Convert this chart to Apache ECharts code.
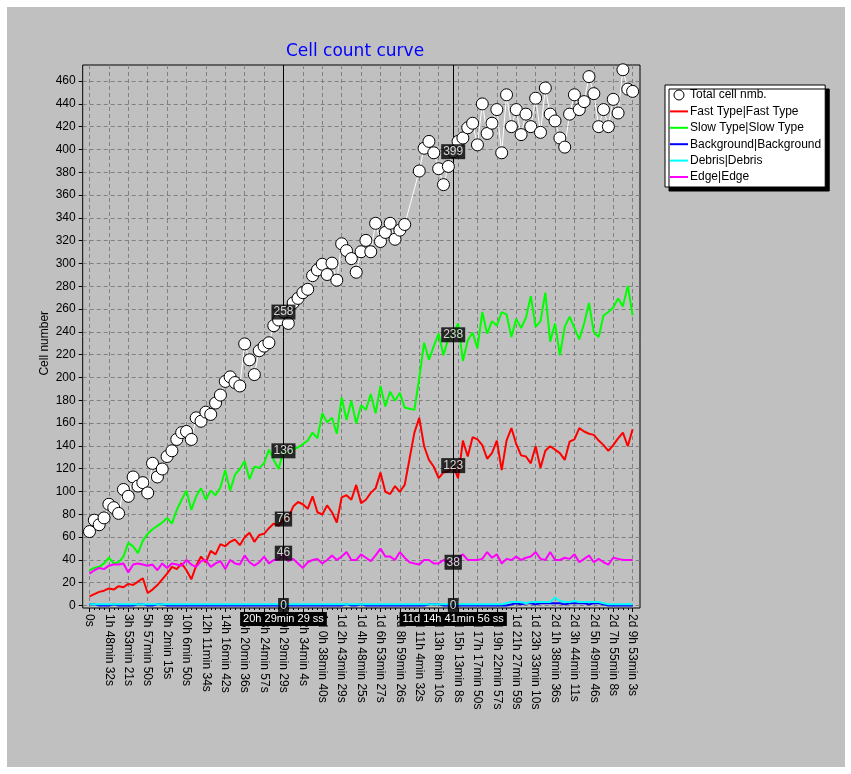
<!DOCTYPE html>
<html><head><meta charset="utf-8">
<script src="https://cdn.jsdelivr.net/npm/echarts@6/dist/echarts.min.js"></script>
<style>
html,body{margin:0;padding:0;background:#fff;width:851px;height:774px;overflow:hidden}
#c{position:absolute;left:7px;top:7px;width:838px;height:760px}
</style></head><body><div id="c"></div>
<script>
// ---- data ----
const tickLabels = ['0s','1h 48min 32s','3h 53min 21s','5h 57min 50s','8h 2min 15s','10h 6min 50s','12h 11min 34s','14h 16min 42s','16h 20min 36s','18h 24min 57s','20h 29min 29s','22h 34min 4s','1d 0h 38min 40s','1d 2h 43min 29s','1d 4h 48min 25s','1d 6h 53min 27s','1d 8h 59min 26s','1d 11h 4min 32s','1d 13h 8min 10s','1d 15h 13min 8s','1d 17h 17min 50s','1d 19h 22min 57s','1d 21h 27min 59s','1d 23h 33min 10s','2d 1h 38min 36s','2d 3h 44min 11s','2d 5h 49min 46s','2d 7h 55min 8s','2d 9h 53min 3s'];
const pointsPerTick = 4;

const totalCells = [65,75,71,77,89,86,81,102,96,113,
105,108,99,125,113,120,131,136,146,152,
153,146,165,162,170,168,178,185,197,201,
196,193,230,216,203,224,228,231,246,251,
258,248,266,270,275,278,290,295,300,291,
301,286,318,312,305,293,311,321,311,336,
320,328,336,322,330,335,null,null,382,402,
408,398,384,370,386,399,408,411,420,424,
405,441,415,424,436,398,449,421,436,414,
432,421,446,416,455,432,426,411,403,432,
449,436,443,465,450,421,436,421,445,433,
471,454,452];

const fastType = [8,10,12,13,15,14,17,16,19,18,
21,24,11,14,18,23,28,34,32,37,
31,23,35,43,38,48,45,54,52,56,
58,53,60,64,56,62,63,68,72,70,
76,77,87,91,89,85,96,82,80,88,
82,73,95,97,93,106,90,93,99,103,
117,100,98,105,100,106,129,152,165,140,
128,122,112,117,118,123,112,145,131,148,
146,141,129,134,145,119,145,156,142,132,
131,125,140,121,136,140,137,134,128,144,
146,156,153,151,150,145,141,136,141,147,
152,140,155];

const slowType = [31,33,34,37,42,37,38,43,55,52,
46,57,63,67,70,73,77,72,84,93,
101,84,96,103,93,101,97,104,119,101,
115,120,127,111,122,121,125,137,128,120,
136,134,137,139,142,145,152,147,169,161,
165,151,183,163,180,160,176,172,186,169,
193,175,188,180,187,174,173,172,200,231,
216,228,239,220,235,238,248,215,233,240,
226,258,239,250,246,258,256,236,252,244,
253,272,245,250,275,232,248,220,245,254,
244,234,248,266,240,236,255,258,262,270,
263,281,255];

const background = [1,1,0,0,0,1,0,0,0,0,
1,1,0,0,1,1,0,0,0,0,
0,0,0,0,0,0,0,0,0,0,
0,0,0,0,0,0,0,0,0,0,
0,0,0,0,0,0,0,0,0,0,
0,0,0,1,0,0,1,0,0,0,
0,0,0,0,0,0,0,0,0,0,
1,1,1,0,0,0,0,0,0,0,
0,0,0,0,0,0,0,1,2,1,
2,2,1,2,2,2,2,2,1,2,
2,2,2,1,2,2,1,0,0,0,
0,0,0];

const debris = [1,1,1,1,1,1,1,1,1,1,
1,1,1,1,1,1,1,1,1,1,
1,1,1,1,1,1,1,1,1,1,
1,1,1,1,1,1,1,1,1,1,
1,1,1,1,1,1,1,1,1,1,
1,1,1,1,1,1,1,1,1,1,
1,1,1,1,1,1,1,1,1,1,
1,1,1,1,1,1,1,1,1,1,
1,1,1,1,1,1,2,3,3,3,
2,3,3,3,3,3,7,4,3,3,
4,3,3,3,3,3,2,1,1,1,
1,1,1];

const edge = [28,31,33,32,35,36,36,37,29,36,
37,36,35,36,31,37,33,37,36,35,
40,36,34,39,40,34,37,39,32,40,
37,36,44,38,35,38,43,37,40,40,
46,39,41,37,33,38,40,41,37,40,
44,40,43,47,40,40,45,42,39,44,
50,43,43,40,47,42,38,37,36,40,
40,37,37,40,38,38,42,45,40,40,
40,41,47,42,45,37,41,40,43,40,
42,43,47,41,40,47,40,40,42,41,
45,38,41,44,38,41,38,36,42,41,
40,40,40];

const seriesNames = ['Total cell nmb.','Fast Type|Fast Type','Slow Type|Slow Type','Background|Background','Debris|Debris','Edge|Edge'];
const seriesColors = ['#ffffff','#ff0000','#00ff00','#0000ff','#00ffff','#ff00ff'];

const cursorTimes = [10, 18.75];
const cursorTimeLabels = ['20h 29min 29 ss', '11d 14h 41min 56 ss'];
const cursorValues = [[258,136,76,46,0],[399,238,123,38,0]];

const yTicks = {min: 0, max: 460, step: 20};

// ---- build ----
const FONT = 'Liberation Sans, Arial, sans-serif';
const toXY = arr => arr.map((v, i) => [i / pointsPerTick, v]);

const frame = {left: 75.7, top: 58, width: 557.3, height: 543};
const yGrid = {left: 75.7, top: 74, width: 557.3, height: 524.5};
const xGrid = {left: 82.5, top: 58, width: 543.2, height: 543};

const dash = {color: '#808080', width: 1, type: [4, 3]};
const LINE_ICON = 'path://M0,0L18,0L18,2L0,2Z';

const chart = echarts.init(document.getElementById('c'), null, {renderer: 'canvas'});

function lineSeries(idx, arr) {
  return {
    name: seriesNames[idx], type: 'line', xAxisIndex: 0, yAxisIndex: 0,
    data: toXY(arr), symbol: 'none', animation: false,
    lineStyle: {color: seriesColors[idx], width: 2},
    itemStyle: {color: seriesColors[idx]},
    z: 3 + idx
  };
}

const cursorPts = [];
cursorTimes.forEach((t, ci) => cursorValues[ci].forEach(v => cursorPts.push([t, v])));

const option = {
  backgroundColor: '#c0c0c0',
  animation: false,
  textStyle: {fontFamily: FONT},
  title: {
    text: 'Cell count curve', left: 343, top: 31, textAlign: 'center',
    textStyle: {color: '#0000ff', fontSize: 17, fontWeight: 'normal', fontFamily: 'DejaVu Sans, sans-serif'}
  },
  legend: {
    orient: 'vertical', left: 658, top: 78,
    backgroundColor: '#ffffff', borderColor: '#000', borderWidth: 1,
    shadowColor: '#000', shadowBlur: 0, shadowOffsetX: 4, shadowOffsetY: 4,
    padding: [3, 4, 3, 5], itemGap: 2.4, itemWidth: 18, itemHeight: 10,
    textStyle: {fontSize: 12, color: '#000', fontFamily: FONT, lineHeight: 14, padding: [0, 0, 0, -3]},
    data: [
      {name: seriesNames[0], icon: 'circle', itemStyle: {color: '#fff', borderColor: '#000', borderWidth: 1}},
      {name: seriesNames[1], icon: LINE_ICON, itemStyle: {color: seriesColors[1]}},
      {name: seriesNames[2], icon: LINE_ICON, itemStyle: {color: seriesColors[2]}},
      {name: seriesNames[3], icon: LINE_ICON, itemStyle: {color: seriesColors[3]}},
      {name: seriesNames[4], icon: LINE_ICON, itemStyle: {color: seriesColors[4]}},
      {name: seriesNames[5], icon: LINE_ICON, itemStyle: {color: seriesColors[5]}}
    ]
  },
  grid: [
    Object.assign({show: true, borderColor: '#000', borderWidth: 1, backgroundColor: 'transparent', outerBoundsMode: 'none', containLabel: false}, frame),
    Object.assign({outerBoundsMode: 'none', containLabel: false}, yGrid),
    Object.assign({outerBoundsMode: 'none', containLabel: false}, xGrid)
  ],
  xAxis: [
    {gridIndex: 0, type: 'value', min: -0.35, max: 28.38, show: false},
    {gridIndex: 1, type: 'value', min: 0, max: 1, show: false},
    {gridIndex: 2, type: 'value', min: 0, max: tickLabels.length - 1, interval: 1,
      axisLine: {show: false},
      axisTick: {show: true, length: 4, lineStyle: {color: '#000'}},
      minorTick: {show: true, splitNumber: 4, length: 2, lineStyle: {color: '#000'}},
      axisLabel: {rotate: -90, margin: 6, fontSize: 12, color: '#000', fontFamily: FONT,
        formatter: v => tickLabels[Math.round(v)] || ''},
      splitLine: {show: true, lineStyle: dash}
    }
  ],
  yAxis: [
    {gridIndex: 0, type: 'value', min: -2.2, max: 475.2, show: false},
    {gridIndex: 1, type: 'value', min: yTicks.min, max: yTicks.max, interval: yTicks.step,
      name: 'Cell number', nameLocation: 'middle', nameGap: 32, nameRotate: 90, nameMoveOverlap: false,
      nameTextStyle: {fontSize: 12, color: '#000', fontFamily: FONT},
      axisLine: {show: false},
      axisTick: {show: true, length: 4, lineStyle: {color: '#000'}},
      axisLabel: {margin: 7, fontSize: 12, color: '#000', fontFamily: FONT},
      splitLine: {show: true, lineStyle: dash}
    },
    {gridIndex: 2, type: 'value', min: 0, max: 1, show: false}
  ],
  series: [
    {
      name: 'cursor', type: 'line', xAxisIndex: 0, yAxisIndex: 0, data: [], z: 2,
      markLine: {silent: true, symbol: ['none', 'none'], animation: false,
        label: {show: false}, lineStyle: {color: '#000', width: 1, type: 'solid'},
        data: cursorTimes.map(t => ({xAxis: t}))}
    },
    lineSeries(1, fastType),
    lineSeries(2, slowType),
    lineSeries(3, background),
    lineSeries(4, debris),
    lineSeries(5, edge),
    {
      name: seriesNames[0], type: 'line', xAxisIndex: 0, yAxisIndex: 0,
      data: toXY(totalCells), connectNulls: true, showAllSymbol: true,
      symbol: 'circle', symbolSize: 12,
      lineStyle: {color: '#ffffff', width: 1},
      itemStyle: {color: '#ffffff', borderColor: '#000', borderWidth: 1},
      z: 10
    },
    {
      name: 'cursorLabels', type: 'scatter', xAxisIndex: 0, yAxisIndex: 0,
      data: cursorPts, symbol: 'rect', symbolSize: 1, itemStyle: {color: 'rgba(0,0,0,0)'},
      label: {show: true, position: 'inside', formatter: p => String(p.value[1]),
        color: '#fff', backgroundColor: '#000', padding: [2, 2, 1, 2], fontSize: 12, fontFamily: FONT},
      z: 20
    }
  ]
};
chart.setOption(option);

// bottom cursor time labels, positioned through the x scale
const graphics = cursorTimes.map((t, i) => {
  const px = chart.convertToPixel({xAxisIndex: 0}, t);
  return {
    type: 'text', z: 100, x: px, y: frame.top + frame.height + 11,
    style: {text: cursorTimeLabels[i], fill: '#fff', backgroundColor: '#000',
      padding: [2, 3, 1, 3], font: '11px ' + FONT, align: 'center', verticalAlign: 'middle'}
  };
});
chart.setOption({graphic: graphics});
</script></body></html>
